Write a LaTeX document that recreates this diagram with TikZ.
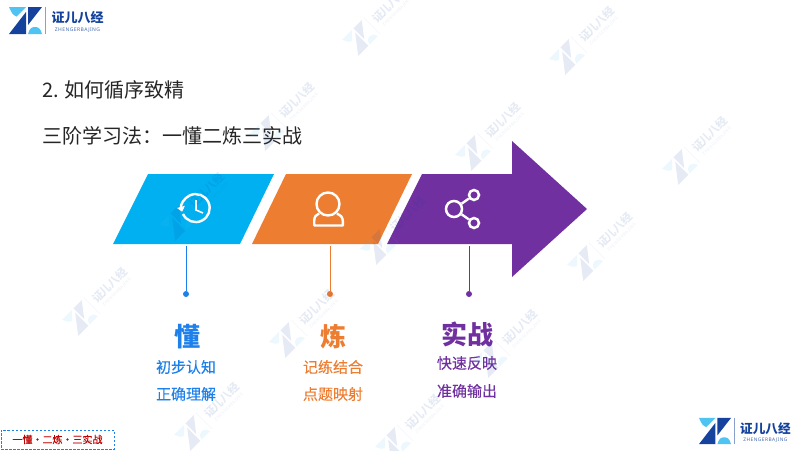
\documentclass[tikz,border=0pt]{standalone}
\usepackage{fontspec}
\setmainfont{Noto Sans CJK SC}
\newfontfamily\subfont[LetterSpace=9]{Noto Sans}
\newfontfamily\midfont[FakeBold=0.25]{Noto Sans CJK SC}
\usetikzlibrary{arrows.meta}
\definecolor{logodark}{HTML}{14429C}
\definecolor{logolight}{HTML}{4FC3F2}
\definecolor{dongblue}{HTML}{00B0F0}
\definecolor{dongtext}{HTML}{1E80EA}
\definecolor{lianorange}{HTML}{ED7D31}
\definecolor{shizhanpurple}{HTML}{7030A0}
\definecolor{titlegray}{HTML}{262626}
\tikzset{
    zlogo/.pic={
        \fill[logolight] (-16.5,-13.5) -- (0.5,-13.5) -- (-9,-4) .. controls (-13,-6) .. (-16.5,-13.5) -- cycle;
        \fill[logodark] (2.5,-13.5) -- (16.5,-13.5) -- (2.5,4.5) -- cycle;
        \fill[logodark] (-16.5,13.5) -- (0.5,-8.5) -- (0.5,13.5) -- cycle;
        \fill[logolight] (2.5,13.5) .. controls (4,8) and (6,6.5) .. (9.5,6.5) .. controls (13,6.5) and (15,8) .. (16.5,13.5) -- cycle;
        \draw[logodark!50, line width=0.6pt] (20.2,-13.5) -- (20.2,13.5);
        \node[logodark, font=\bfseries\fontsize{13}{13}\selectfont, inner sep=0pt] (-name) at (52,-2.5) {证儿八经};
        \node[logodark!80, font=\subfont\fontsize{5}{5}\selectfont, inner sep=0pt] (-sub) at (52,9.5) {ZHENGERBAJING};
    },
    bigword/.style={font=\bfseries\fontsize{26}{26}\selectfont, inner sep=0pt},
    smallword/.style={font=\midfont\fontsize{15}{15}\selectfont, inner sep=0pt},
    titleword/.style={titlegray, font=\fontsize{20}{20}\selectfont, inner sep=0pt, anchor=west},
    enddot/.style={circle, fill, inner sep=0pt, minimum size=6pt},
    iconline/.style={white, line width=2.4pt},
    sharering/.style={draw=white, circle, line width=2.5pt, inner sep=0pt},
}
\begin{document}
\begin{tikzpicture}[x=1pt,y=-1pt]
    \useasboundingbox (0,0) rectangle (800,450);

    \pic (logoTop) at (25.5,20.5) {zlogo};
    \pic[scale=0.97, transform shape] (logoBottom) at (715,431) {zlogo};

    \node[titleword] (titleOne) at (42,90) {2. 如何循序致精};
    \node[titleword] (titleTwo) at (42,136) {三阶学习法：一懂二炼三实战};

    \fill[dongblue] (148,174) -- (274,174) -- (240,244) -- (113,244) -- cycle;
    \fill[lianorange] (286,174) -- (412,174) -- (378,244) -- (252,244) -- cycle;
    \fill[shizhanpurple] (422,174) -- (512,174) -- (512,141) -- (587,209) -- (512,277) -- (512,244) -- (387,244) -- cycle;

    \draw[iconline, -{Triangle[length=5pt,width=8pt]}] (183,214) arc[start angle=155, end angle=-195, radius=14];
    \draw[iconline, line width=1.6pt] (196,200) -- (196,210) -- (203,213);

    \draw[iconline] (328,204) circle[radius=11.5];
    \draw[iconline, line join=round] (319,213.5) .. controls (316,214.5) and (314.2,217) .. (314.2,221) -- (314.2,225.5) -- (342.8,225.5) -- (342.8,221) .. controls (342.8,217) and (340,214.5) .. (337,213.5);

    \node[sharering, minimum size=16pt] (shareHub) at (454,209) {};
    \node[sharering, minimum size=10pt] (shareUp) at (474,195) {};
    \node[sharering, minimum size=10pt] (shareDown) at (474,223) {};
    \draw[iconline] (shareHub) -- (shareUp);
    \draw[iconline] (shareHub) -- (shareDown);

    \coordinate (dongTop) at (186,246);
    \coordinate (lianTop) at (330,246);
    \coordinate (shiTop) at (469,246);
    \node[enddot, dongtext] (dongDot) at (186,294) {};
    \node[enddot, lianorange] (lianDot) at (330,294) {};
    \node[enddot, shizhanpurple] (shiDot) at (469,294) {};
    \draw[dongtext] (dongTop) -- (dongDot);
    \draw[lianorange] (lianTop) -- (lianDot);
    \draw[shizhanpurple] (shiTop) -- (shiDot);

    \node[bigword, dongtext] (dongWord) at (187,337) {懂};
    \node[smallword, dongtext] (dongOne) at (186,367) {初步认知};
    \node[smallword, dongtext] (dongTwo) at (186,394) {正确理解};

    \node[bigword, lianorange] (lianWord) at (333,337) {炼};
    \node[smallword, lianorange] (lianOne) at (333,367) {记练结合};
    \node[smallword, lianorange] (lianTwo) at (333,394) {点题映射};

    \node[bigword, shizhanpurple] (shiWord) at (467,334) {实战};
    \node[smallword, shizhanpurple] (shiOne) at (467,363) {快速反映};
    \node[smallword, shizhanpurple] (shiTwo) at (467,391) {准确输出};

    \node[draw=dongtext, dash pattern=on 2.5pt off 1.5pt, line width=0.9pt, text=red!75!black, font=\midfont\fontsize{10}{10}\selectfont, minimum width=113pt, minimum height=19pt, inner sep=0pt] (tagBox) at (57.5,439.5) {一懂·二炼·三实战};

    \foreach \wx/\wy [count=\i] in {360/38, 567/57, 177/223, 267/133, 473/153, 680/167, 378/247, 585/263, 80/318, 287/340, 490/360, 192/433, 393/445} {
        \pic[rotate=45, scale=0.85, opacity=0.11, transform shape] (mark\i) at (\wx,\wy) {zlogo};
    }
\end{tikzpicture}
\end{document}
